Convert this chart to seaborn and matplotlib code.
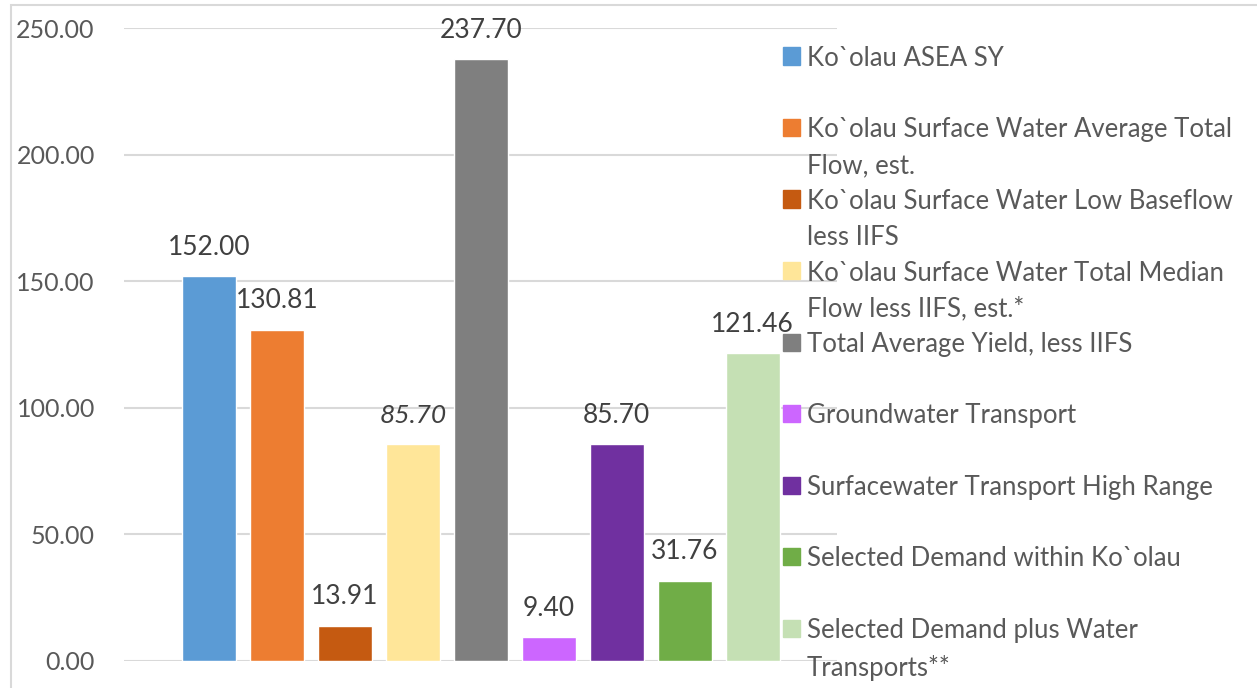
import matplotlib
matplotlib.use("Agg")
import matplotlib.pyplot as plt
import seaborn as sns
from matplotlib.patches import Rectangle
from matplotlib.ticker import FormatStrFormatter

# ── data ────────────────────────────────────────────────────────────
series = [
    "Ko`olau ASEA SY",
    "Ko`olau Surface Water Average Total\nFlow, est.",
    "Ko`olau Surface Water Low Baseflow\nless IIFS",
    "Ko`olau Surface Water Total Median\nFlow less IIFS, est.*",
    "Total Average Yield, less IIFS",
    "Groundwater Transport",
    "Surfacewater Transport High Range",
    "Selected Demand within Ko`olau",
    "Selected Demand plus Water\nTransports**",
]
values = [152.00, 130.81, 13.91, 85.70, 237.70, 9.40, 85.70, 31.76, 121.46]
colors = ["#5B9BD5", "#ED7D31", "#C55A11", "#FFE699", "#7F7F7F",
          "#CC66FF", "#7030A0", "#70AD47", "#C5E0B4"]
italic_labels = [3]  # the estimated median flow label is italic in the source
y_ticks = [0, 50, 100, 150, 200, 250]

sns.set_style("white")
plt.rcParams["font.family"] = ["Lato", "DejaVu Sans"]

W, H = 1257, 688
fig = plt.figure(figsize=(W / 100, H / 100), dpi=100)
ax = fig.add_axes([124 / W, 27 / H, 713 / W, 633 / H])

keys = [s.replace("\n", " ") for s in series]
sns.barplot(x=keys, y=values, hue=keys, palette=colors, width=0.794,
            legend=False, saturation=1, ax=ax, zorder=3)

ax.set_xlim(-1.25, 9.24)
ax.set_ylim(0, 250)
ax.set_yticks(y_ticks)
ax.yaxis.set_major_formatter(FormatStrFormatter("%.2f"))
ax.set_xticks([])
ax.set_xlabel("")
ax.set_ylabel("")
ax.grid(axis="y", color="#D9D9D9", lw=1.5, zorder=0)
ax.tick_params(axis="y", length=0, pad=21, labelsize=18, labelcolor="#595959")
for sp in ax.spines.values():
    sp.set_visible(False)

# data labels
for i, v in enumerate(values):
    ax.annotate(f"{v:.2f}", xy=(i, v), xytext=(0, 29), textcoords="offset pixels",
                ha="center", va="center", fontsize=19, color="#404040",
                style="italic" if i in italic_labels else "normal", zorder=5)

# legend, Excel style: fixed slot per entry, square aligned with first line
slot = 71.5
for i, (lab, col) in enumerate(zip(series, colors)):
    yc = 56 + i * slot
    fig.patches.append(Rectangle((783 / W, 1 - (yc + 8.5) / H), 17 / W, 17 / H,
                                 transform=fig.transFigure, color=col, zorder=6))
    fig.text(807 / W, 1 - (yc - 10) / H, lab, ha="left", va="top", fontsize=18.5,
             color="#595959", linespacing=1.55, zorder=6)

# outer chart border
fig.patches.append(Rectangle((11 / W, -0.1), 1.2, 1 - 5 / H + 0.1,
                             transform=fig.transFigure, fill=False,
                             edgecolor="#D9D9D9", lw=1.5, zorder=0))

fig.savefig("out.png", dpi=100)
